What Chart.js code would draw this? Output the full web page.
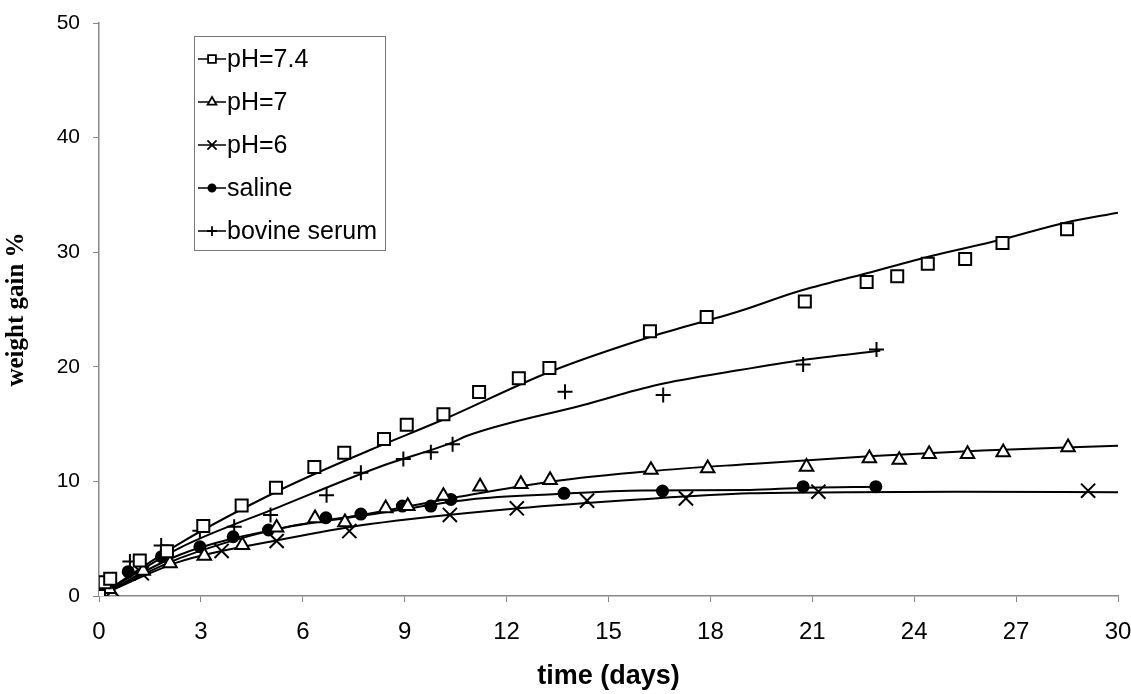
<!DOCTYPE html>
<html><head><meta charset="utf-8">
<script src="https://cdn.jsdelivr.net/npm/chart.js@4/dist/chart.umd.min.js"></script>
<style>html,body{margin:0;padding:0;background:#fff}#wrap{width:1131px;height:694px}</style>
</head><body><div id="wrap"><canvas id="c" width="1131" height="694"></canvas></div>
<script>
// ---- measured points ----
const days74 = [0,0.17,0.33,1.2,2.0,3.07,4.2,5.21,6.34,7.22,8.39,9.06,10.14,11.19,12.36,13.26,16.22,17.89,20.78,22.6,23.5,24.4,25.5,26.6,28.5];
const gain74 = [0,1.2,1.5,3.1,3.9,6.1,7.9,9.45,11.26,12.5,13.7,14.95,15.85,17.8,19.0,19.9,23.1,24.35,25.7,27.4,27.9,29.0,29.4,30.8,32.0];
const days7 = [0,0.3,1.3,2.09,3.1,4.22,5.23,6.36,7.24,8.44,9.09,10.14,11.22,12.42,13.28,16.25,17.92,20.83,22.68,23.56,24.44,25.57,26.62,28.53];
const gain7 = [0,0.6,2.2,2.85,3.5,4.45,5.96,6.78,6.43,7.65,7.85,8.73,9.54,9.77,10.12,11.0,11.14,11.28,12.02,11.87,12.39,12.39,12.54,12.97];
const days6 = [0,0.4,1.26,3.61,5.23,7.37,10.33,12.3,14.37,17.28,21.18,29.12];
const gain6 = [0,0.5,1.98,3.93,4.8,5.67,7.07,7.65,8.32,8.52,9.1,9.19];
const daysSal = [0,0.86,1.84,2.97,3.95,4.99,6.68,7.71,8.93,9.77,10.36,13.69,16.59,20.73,22.87];
const gainSal = [0,2.12,3.43,4.3,5.17,5.76,6.83,7.15,7.85,7.85,8.43,8.96,9.16,9.54,9.54];
const daysBov = [0,0.3,0.91,1.83,2.97,3.98,5.05,6.7,7.71,8.96,9.77,10.41,13.72,16.61,20.73,22.89];
const gainBov = [0,1.0,3.0,4.4,5.7,6.05,7.07,8.8,10.76,11.95,12.54,13.24,17.83,17.54,20.2,21.5];
// ---- fitted curves ----
const fitDays74 = [0,2.38,5.33,7.98,10.14,13.28,16.22,18.87,20.55,22.6,24.5,26.52,28.47,30];
const fitGain74 = [0,4.6,9.25,12.74,15.4,19.57,22.6,24.87,26.55,28.16,29.67,31.06,32.6,33.45];
const fitDays7 = [0,2.38,5.33,7.98,10.5,13.28,16.25,19.16,22.79,26,30];
const fitGain7 = [0,3.3,5.9,7.21,8.6,9.97,10.9,11.52,12.22,12.7,13.12];
const fitDays6 = [0,2.38,5.33,7.98,12.3,16,19.16,22,25.25,30];
const fitGain6 = [0,3.0,4.9,6.28,7.65,8.45,8.96,9.05,9.1,9.05];
const fitDaysSal = [0,2.38,5.33,8,10.92,13.5,16,19.16,20.73,23];
const fitGainSal = [0,3.6,5.9,7.1,8.43,8.9,9.2,9.25,9.45,9.54];
const fitDaysBov = [0,2.38,5.33,8.27,10.41,10.82,14.26,16.42,18.87,20.73,23];
const fitGainBov = [0,4.2,7.8,11.28,13.4,13.96,16.67,18.41,19.72,20.6,21.4];
const seriesLabels = ['pH=7.4','pH=7','pH=6','saline','bovine serum'];
const xTitle = 'time (days)';
const yTitle = 'weight gain %';

const pts = (xs, ys) => xs.map((x, i) => ({x, y: ys[i]}));
const styles = [
  {pointStyle:'rect', radius:8.5, bg:'#fff'},
  {pointStyle:'triangle', radius:7.8, bg:'#fff'},
  {pointStyle:'crossRot', radius:10, bg:'#000'},
  {pointStyle:'circle', radius:5.5, bg:'#000'},
  {pointStyle:'cross', radius:7.5, bg:'#000'}
];
const pointData = [pts(days74,gain74), pts(days7,gain7), pts(days6,gain6), pts(daysSal,gainSal), pts(daysBov,gainBov)];
const fitData = [pts(fitDays74,fitGain74), pts(fitDays7,fitGain7), pts(fitDays6,fitGain6), pts(fitDaysSal,fitGainSal), pts(fitDaysBov,fitGainBov)];

const datasets = [];
pointData.forEach((d, i) => {
  datasets.push({label: seriesLabels[i], data: d, showLine: false, order: 0,
    pointStyle: styles[i].pointStyle, pointRadius: styles[i].radius,
    pointBackgroundColor: styles[i].bg, pointBorderColor: '#000', pointBorderWidth: 2});
});
fitData.forEach((d, i) => {
  datasets.push({label: seriesLabels[i] + ' fit', data: d, showLine: true, order: 1,
    borderColor: '#000', borderWidth: 2, pointRadius: 0, cubicInterpolationMode: 'monotone', fill: false});
});

const legendPlugin = {
  id: 'boxLegend',
  afterDraw(chart) {
    const ctx = chart.ctx;
    ctx.save();
    const bx = 194.5, by = 36.5, bw = 191, bh = 214;
    ctx.fillStyle = '#fff';
    ctx.fillRect(bx, by, bw, bh);
    ctx.strokeStyle = '#777';
    ctx.lineWidth = 1;
    ctx.strokeRect(bx, by, bw, bh);
    seriesLabels.forEach((lab, i) => {
      const y = 59 + i * 43;
      ctx.strokeStyle = '#000';
      ctx.lineWidth = 1.5;
      ctx.beginPath(); ctx.moveTo(198, y); ctx.lineTo(226, y); ctx.stroke();
      ctx.fillStyle = styles[i].bg;
      ctx.lineWidth = 1.8;
      Chart.helpers.drawPoint(ctx, {pointStyle: styles[i].pointStyle, radius: styles[i].radius * 0.65, rotation: 0, borderWidth: 1.8}, 212, y);
      ctx.fillStyle = '#000';
      ctx.font = '25px "Liberation Sans", Arial, sans-serif';
      ctx.textBaseline = 'middle';
      ctx.textAlign = 'left';
      ctx.fillText(lab, 227, y + 1);
    });
    ctx.restore();
  }
};

new Chart(document.getElementById('c'), {
  type: 'scatter',
  data: {datasets},
  plugins: [legendPlugin],
  options: {
    responsive: false, animation: false,
    layout: {padding: {left: 0, right: 13, top: 23, bottom: 0}},
    plugins: {legend: {display: false}, tooltip: {enabled: false}},
    scales: {
      x: {
        type: 'linear', min: 0, max: 30,
        afterFit(s) { s.height = 98; s.paddingLeft = 0; s.paddingRight = 0; },
        border: {color: '#888', width: 1.5},
        grid: {drawOnChartArea: false, drawTicks: true, tickLength: 6, color: '#888'},
        ticks: {stepSize: 3, color: '#000', padding: 16, maxRotation: 0,
          font: {family: '"Liberation Sans", Arial, sans-serif', size: 24}},
        title: {display: true, text: xTitle, color: '#000', padding: {top: 4, bottom: 1},
          font: {family: '"Liberation Sans", Arial, sans-serif', size: 27, weight: 'bold'}}
      },
      y: {
        type: 'linear', min: 0, max: 50,
        afterFit(s) { s.width = 99; s.paddingTop = 0; s.paddingBottom = 0; },
        border: {color: '#888', width: 1.5},
        grid: {drawOnChartArea: false, drawTicks: true, tickLength: 6, color: '#888'},
        ticks: {stepSize: 10, color: '#000', padding: 13,
          font: {family: '"Liberation Sans", Arial, sans-serif', size: 21}},
        title: {display: true, text: yTitle, color: '#000', padding: {top: 2, bottom: 0},
          font: {family: '"Liberation Serif", "Times New Roman", serif', size: 25, weight: 'bold'}}
      }
    }
  }
});
</script></body></html>
